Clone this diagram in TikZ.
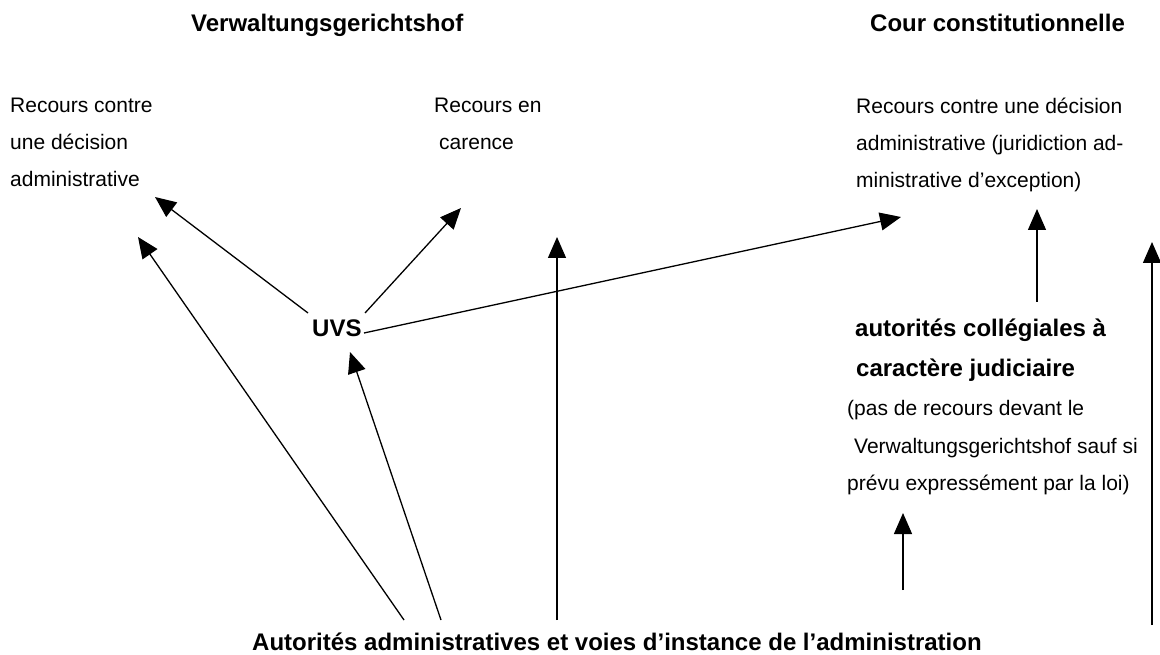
\documentclass[tikz,border=0pt]{standalone}
\usepackage{fontspec}
\setmainfont{Liberation Sans}
\usetikzlibrary{arrows.meta}
\begin{document}
\begin{tikzpicture}[x=1pt,y=-1pt,
  txt/.style={anchor=base west, inner sep=0pt, font=\fontsize{21}{25}\selectfont},
  btxt/.style={anchor=base west, inner sep=0pt, font=\fontsize{24}{28}\selectfont\bfseries},
  arr/.style={line width=1.3pt, -{Triangle[length=21pt,width=18pt]}}]
\useasboundingbox (0,0) rectangle (1160,655);
% headings
\node[btxt] (vgh) at (191,32) {Verwaltungsgerichtshof};
\node[btxt] (cc) at (870,32) {Cour constitutionnelle};
% left block
\node[txt] (a1) at (10,113) {Recours contre};
\node[txt] (a2) at (10,150) {une décision};
\node[txt] (a3) at (10,187) {administrative};
% middle block
\node[txt] (b1) at (434,113) {Recours en};
\node[txt] (b2) at (439,150) {carence};
% right block
\node[txt] (c1) at (856,114) {Recours contre une décision};
\node[txt] (c2) at (856,151) {administrative (juridiction ad-};
\node[txt] (c3) at (856,188) {ministrative d’exception)};
% UVS
\node[btxt] (uvs) at (312,336) {UVS};
% collegial authorities
\node[btxt] (d1) at (855,336) {autorités collégiales à};
\node[btxt] (d2) at (856,376) {caractère judiciaire};
\node[txt] (e1) at (847,415) {(pas de recours devant le};
\node[txt] (e2) at (854,453) {Verwaltungsgerichtshof sauf si};
\node[txt] (e3) at (847,490) {prévu expressément par la loi)};
% bottom
\node[btxt] (aut) at (252,650) {Autorités administratives et voies d’instance de l’administration};
% arrow end points
\coordinate (uvsL) at (308,313);
\coordinate (uvsR) at (365,313);
\coordinate (uvsE) at (364,333);
\coordinate (tipA) at (155,197);
\coordinate (tipB) at (461,208);
\coordinate (tipC) at (901,217);
\coordinate (botA) at (404,620);
\coordinate (botB) at (441,620);
\coordinate (botC) at (557,620);
\coordinate (tipA2) at (138,237);
\coordinate (tipU) at (350,352);
\coordinate (tipV) at (557,237);
\coordinate (colTop) at (1037,302);
\coordinate (tipCol) at (1037,209);
\coordinate (lowD) at (903,590);
\coordinate (tipE) at (903,513);
\coordinate (rightBot) at (1152,625);
\coordinate (tipRight) at (1152,242);
% arrows
\draw[arr] (uvsL) -- (tipA);
\draw[arr] (uvsR) -- (tipB);
\draw[arr] (uvsE) -- (tipC);
\draw[arr] (botA) -- (tipA2);
\draw[arr] (botB) -- (tipU);
\draw[arr] (botC) -- (tipV);
\draw[arr] (colTop) -- (tipCol);
\draw[arr] (lowD) -- (tipE);
\draw[arr] (rightBot) -- (tipRight);
\end{tikzpicture}
\end{document}
